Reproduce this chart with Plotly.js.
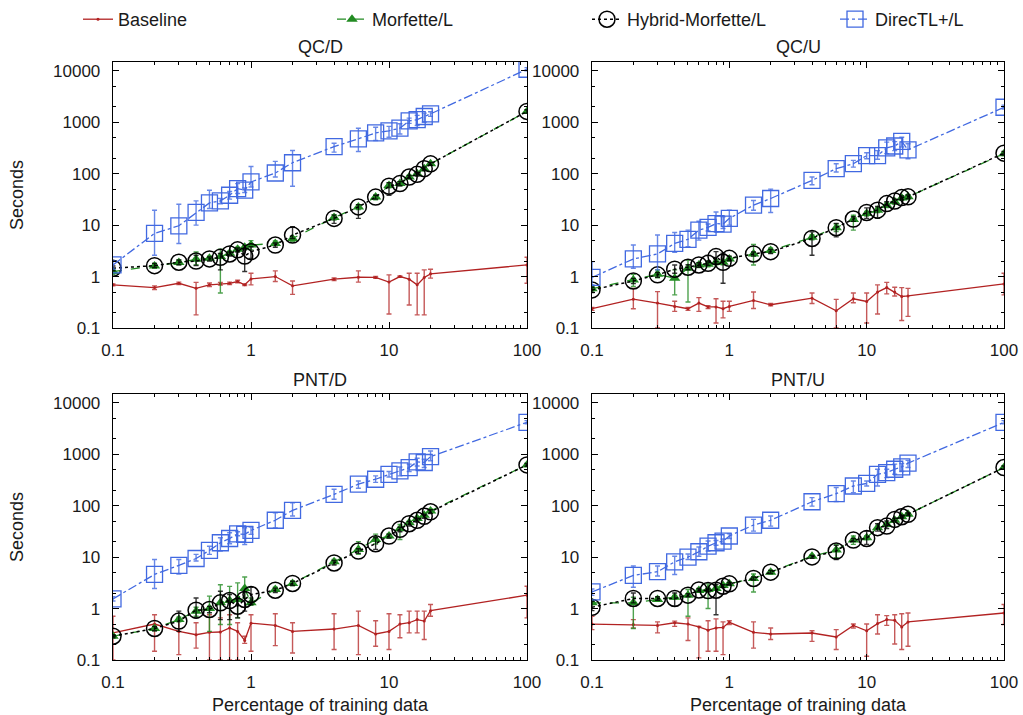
<!DOCTYPE html>
<html>
<head>
<meta charset="utf-8">
<script src="https://cdn.plot.ly/plotly-3.0.1.min.js"></script>
<style>html,body{margin:0;padding:0;background:#fff;}#chart{width:1023px;height:715px;}</style>
</head>
<body>
<div id="chart"></div>
<script>
// ---------- DATA ----------
const pct = [0.1,0.2,0.3,0.4,0.5,0.6,0.7,0.8,0.9,1,1.5,2,4,6,8,10,12,14,16,18,20,100];
const seriesNames = ["Baseline","Morfette/L","Hybrid-Morfette/L","DirecTL+/L"];
const panelTitles = ["QC/D","QC/U","PNT/D","PNT/U"];
const yTickVals = [0.1,1,10,100,1000,10000];
const yTickText = ["0.1","1","10","100","1000","10000"];
const xTickVals = [0.1,1,10,100];
const xTickText = ["0.1","1","10","100"];

// QC/D
const qcd_base    = [0.69,0.61,0.74,0.59,0.69,0.72,0.74,0.80,0.69,0.90,1.0,0.66,0.89,0.97,0.96,0.78,1.0,0.89,0.69,0.96,1.13,1.68];
const qcd_base_hi = [0.72,0.66,0.78,0.77,0.75,0.77,0.78,0.85,0.71,1.16,1.29,0.82,0.94,1.29,1.0,1.08,1.03,1.16,1.16,1.35,1.39,2.37];
const qcd_base_lo = [0.66,0.56,0.70,0.18,0.64,0.68,0.70,0.76,0.67,0.69,0.80,0.45,0.84,0.78,0.92,0.187,0.97,0.28,0.18,0.18,0.93,0.74];
const qcd_morf    = [1.25,1.61,1.87,2.16,2.26,2.44,2.83,3.4,3.7,4.1,4.4,5.5,14,22.6,35,59,64,86,100,125,155,1620];
const qcd_morf_hi = [1.4,1.8,2.1,3.0,2.5,3.4,3.1,3.7,4.0,5.0,4.9,5.9,16,25,38,65,70,92,108,135,165,1750];
const qcd_morf_lo = [1.1,1.45,1.7,1.7,2.05,0.48,2.6,3.1,3.4,3.3,4.0,4.75,12.5,20,31,53,58,80,93,115,145,1500];
const qcd_hyb     = [1.45,1.63,1.9,2.0,2.2,2.36,2.75,3.3,2.5,3.05,4.1,6.4,13.5,22.6,35,57,64,86,97,125,155,1620];
const qcd_hyb_hi  = [1.6,1.8,2.1,2.6,2.4,2.8,3.0,3.6,3.3,3.8,4.5,9.3,15.6,25,38,67,70,92,105,135,165,1750];
const qcd_hyb_lo  = [1.3,1.5,1.7,1.63,2.0,1.35,2.5,3.0,1.25,2.26,3.7,5.5,10.8,13.5,32,38,58,80,90,115,145,1500];
const qcd_dtl     = [1.68,6.9,9.7,17.6,27,29.6,38,51,48,69,103,163,336,475,620,680,765,1060,1120,1290,1450,10700];
const qcd_dtl_hi  = [2.0,19.5,25.5,29.6,47.5,33,45,64,53,138,173,282,390,765,800,830,930,1200,1360,1500,1600,11500];
const qcd_dtl_lo  = [1.4,2.6,4.4,10,21,26,32,41,43,55,86,57,262,270,440,510,590,950,860,1000,1300,10000];

// QC/U
const qcu_base    = [0.237,0.364,0.305,0.263,0.237,0.305,0.257,0.257,0.237,0.263,0.343,0.283,0.38,0.216,0.37,0.328,0.50,0.61,0.50,0.41,0.42,0.72];
const qcu_base_hi = [0.25,0.59,0.51,0.33,0.25,0.39,0.27,0.37,0.33,0.33,0.5,0.30,0.48,0.36,0.48,0.48,0.69,0.77,0.62,0.61,0.59,1.16];
const qcu_base_lo = [0.22,0.237,0.1,0.21,0.22,0.21,0.24,0.125,0.157,0.21,0.24,0.27,0.30,0.1,0.31,0.125,0.187,0.46,0.42,0.14,0.168,0.44];
const qcu_morf    = [0.58,0.86,1.11,0.93,1.45,1.68,1.73,1.89,1.89,2.2,2.75,3.2,5.8,8.9,12.9,16.8,19.5,24.4,28.3,33.8,35.4,245];
const qcu_morf_hi = [0.64,1.1,1.35,1.35,2.1,1.85,1.9,2.1,2.05,2.4,4.2,3.6,6.4,10.5,15.5,18.5,21.5,27,31,37,39,265];
const qcu_morf_lo = [0.52,0.64,0.95,0.44,0.32,1.5,1.55,1.7,1.7,2.0,1.68,2.85,5.2,7.5,8.0,15,17.5,22,25.5,30.5,32,225];
const qcu_hyb     = [0.55,0.82,1.08,1.39,1.52,1.68,1.81,2.44,1.89,2.26,2.75,3.05,5.5,8.9,13.1,17.6,19.5,26.2,29.4,34.2,35.4,250];
const qcu_hyb_hi  = [0.62,0.92,1.2,1.68,1.7,1.85,2.0,3.05,2.83,2.5,3.0,3.35,7.4,10.8,14.5,21.6,23,28.5,32,37,38.5,270];
const qcu_hyb_lo  = [0.49,0.73,0.97,1.16,1.36,1.52,1.65,1.95,0.74,2.05,2.5,2.8,2.6,5.9,11.8,13.5,13.5,24,27,31.5,32.5,230];
const qcu_dtl     = [0.96,2.2,2.75,4.4,5.3,8.0,9.0,10.7,10.4,13.5,24.4,32.9,74,125,156,225,225,318,345,425,290,1950];
const qcu_dtl_hi  = [1.95,4.1,6.4,7.2,8.0,11.9,10.5,18,14.5,19.5,30,50,86,156,181,255,280,410,420,510,380,2150];
const qcu_dtl_lo  = [0.69,1.45,1.35,2.95,3.8,5.1,7.7,7.4,8.6,10,19.5,17.6,61,108,134,195,190,245,280,330,195,1800];

// PNT/D
const pntd_base    = [0.336,0.50,0.36,0.31,0.345,0.35,0.42,0.36,0.24,0.52,0.47,0.36,0.40,0.47,0.32,0.36,0.50,0.53,0.61,0.57,0.91,1.82];
const pntd_base_hi = [0.71,0.76,0.61,0.53,0.76,0.66,0.76,0.53,0.29,0.76,0.79,0.53,0.79,0.89,0.58,0.79,0.76,0.89,0.89,0.89,1.2,2.72];
const pntd_base_lo = [0.1,0.148,0.127,0.17,0.1,0.1,0.1,0.1,0.21,0.148,0.19,0.137,0.16,0.127,0.185,0.16,0.27,0.336,0.336,0.25,0.71,0.66];
const pntd_morf    = [0.29,0.41,0.61,0.89,1.0,1.29,1.43,1.5,2.45,1.29,2.35,3.07,8.1,14.1,22,25.7,35.6,46.6,56,65,79,620];
const pntd_morf_hi = [0.31,0.45,0.68,1.06,1.74,2.9,2.7,3.15,4.1,1.6,2.6,3.4,9,20,28,28,43,50,60,70,85,660];
const pntd_morf_lo = [0.27,0.37,0.55,0.71,0.36,0.49,0.49,0.66,1.6,1.16,2.15,2.8,7.3,11.3,18,23.5,22,43,52,60,73,580];
const pntd_hyb     = [0.29,0.41,0.57,0.93,0.96,1.29,1.43,1.11,1.5,1.87,2.27,3.07,7.7,13.1,18.2,25.7,34.6,44.6,52,62,76,620];
const pntd_hyb_hi  = [0.31,0.45,0.89,1.6,1.1,2.17,1.87,1.6,2.11,2.6,2.5,3.4,8.6,14.5,23.8,28,38,49,57,68,83,660];
const pntd_hyb_lo  = [0.27,0.37,0.36,0.66,0.83,0.61,0.61,0.66,0.89,1.2,2.05,2.8,7.0,11.8,14.1,23.5,31,40,48,57,70,580];
const pntd_dtl     = [1.54,4.6,6.9,9.4,13.5,19,23,28.4,27.6,33,52,81,166,261,326,407,473,550,710,690,900,4160];
const pntd_dtl_hi  = [1.7,9.0,9.0,11.3,16.3,23.7,29.8,31,37.2,38.5,73,114,208,302,379,461,565,640,835,800,1150,4500];
const pntd_dtl_lo  = [1.4,2.45,4.7,8.4,11.3,13.1,18.2,26,17.6,27.6,37,63,133,218,283,361,379,461,590,550,745,3900];

// PNT/U
const pntu_base    = [0.50,0.49,0.47,0.53,0.50,0.44,0.38,0.42,0.43,0.54,0.345,0.32,0.335,0.28,0.47,0.37,0.51,0.61,0.59,0.44,0.55,0.82];
const pntu_base_hi = [0.71,0.61,0.55,0.57,0.66,0.45,0.58,0.63,0.55,0.58,0.55,0.42,0.37,0.39,0.50,0.50,0.76,0.73,0.76,0.79,0.82,1.2];
const pntu_base_lo = [0.39,0.42,0.336,0.45,0.24,0.11,0.148,0.148,0.127,0.49,0.17,0.25,0.23,0.16,0.42,0.118,0.32,0.47,0.205,0.16,0.185,0.49];
const pntu_morf    = [1.29,1.29,1.5,1.66,1.82,2.24,2.35,2.45,2.8,3.02,3.84,5.1,10.4,13.7,21.4,23.8,37.3,43,52,61,68,550];
const pntu_morf_hi = [1.4,1.66,1.65,1.8,2.35,2.4,3.02,2.6,3.0,3.2,4.7,5.5,11,17.7,25.7,26,40,46,56,65,73,590];
const pntu_morf_lo = [1.2,0.41,1.38,1.52,0.71,2.1,1.0,2.3,2.6,2.85,2.1,4.7,9.8,9.7,17.7,22,35,40,48,57,63,510];
const pntu_hyb     = [1.06,1.57,1.57,1.57,1.82,2.3,2.24,2.27,2.72,3.02,3.84,5.1,10.1,13.1,21.4,23,37.3,40,54,61,68,550];
const pntu_hyb_hi  = [1.39,2.0,1.7,2.0,1.95,2.45,2.4,2.94,2.9,3.2,4.1,5.5,10.8,16.9,23,32,44.6,50.3,57,65,72,590];
const pntu_hyb_lo  = [0.91,1.29,1.45,1.11,1.7,2.15,2.1,0.76,2.55,2.85,3.6,4.8,9.5,9.0,20,17.7,32,36,51,58,65,510];
const pntu_dtl     = [2.1,4.4,5.2,8.1,10,12.7,16.3,19,20.4,25.7,42,52,119,171,241,270,407,440,510,565,670,4160];
const pntu_dtl_hi  = [2.4,6.7,6.7,10.4,11.5,15.7,20.5,21,22.5,28.5,54,63,143,225,302,302,510,510,640,660,760,4500];
const pntu_dtl_lo  = [1.8,2.6,4.3,4.6,9,10.4,13.1,17,18.5,23,32,40,98,120,179,241,241,351,407,461,550,3900];

// ---------- STYLE ----------
const panels = [
  [[qcd_base,qcd_base_hi,qcd_base_lo],[qcd_morf,qcd_morf_hi,qcd_morf_lo],[qcd_hyb,qcd_hyb_hi,qcd_hyb_lo],[qcd_dtl,qcd_dtl_hi,qcd_dtl_lo]],
  [[qcu_base,qcu_base_hi,qcu_base_lo],[qcu_morf,qcu_morf_hi,qcu_morf_lo],[qcu_hyb,qcu_hyb_hi,qcu_hyb_lo],[qcu_dtl,qcu_dtl_hi,qcu_dtl_lo]],
  [[pntd_base,pntd_base_hi,pntd_base_lo],[pntd_morf,pntd_morf_hi,pntd_morf_lo],[pntd_hyb,pntd_hyb_hi,pntd_hyb_lo],[pntd_dtl,pntd_dtl_hi,pntd_dtl_lo]],
  [[pntu_base,pntu_base_hi,pntu_base_lo],[pntu_morf,pntu_morf_hi,pntu_morf_lo],[pntu_hyb,pntu_hyb_hi,pntu_hyb_lo],[pntu_dtl,pntu_dtl_hi,pntu_dtl_lo]]
];
const styles = [
  {color:'#b22222', err:'rgba(178,34,34,0.75)', dash:'solid', symbol:'circle', size:3, lw:1.3, mlw:0},
  {color:'#228b22', err:'rgba(34,139,34,0.8)', dash:'dash', symbol:'triangle-up', size:10, lw:1.3, mlw:0},
  {color:'#000000', err:'rgba(0,0,0,0.8)', dash:'dot', symbol:'circle-open', size:16, lw:1.5, mlw:1.5},
  {color:'#4169e1', err:'rgba(65,105,225,0.8)', dash:'dashdot', symbol:'square-open', size:16, lw:1.3, mlw:1.3}
];
const legendIds = ['legend', 'legend2', 'legend3', 'legend4'];

const traces = [];
panels.forEach((series, p) => {
  const xa = p === 0 ? 'x' : 'x' + (p + 1);
  const ya = p === 0 ? 'y' : 'y' + (p + 1);
  series.forEach((s, k) => {
    const [y, hi, lo] = s;
    const st = styles[k];
    traces.push({
      type: 'scatter', mode: 'lines+markers',
      x: pct, y: y, xaxis: xa, yaxis: ya,
      name: seriesNames[k], legendgroup: seriesNames[k], showlegend: p === 0,
      legend: legendIds[k],
      line: {color: st.color, dash: st.dash, width: st.lw},
      marker: {symbol: st.symbol, size: st.size, color: st.color, line: {color: st.color, width: st.mlw}},
      error_y: {type: 'data', symmetric: false,
        array: hi.map((h, i) => h - y[i]),
        arrayminus: lo.map((l, i) => y[i] - l),
        color: st.err, thickness: 1.4, width: 2.5}
    });
  });
});

// ---------- LAYOUT ----------
const W = 1023, H = 715;
const mL = 113, mR = 19, mT = 62, mB = 55;
const pw = W - mL - mR, ph = H - mT - mB;
const px = v => (v - mL) / pw;
const py = v => (H - mB - v) / ph;

const xMinor = [], yMinor = [];
for (let d = -1; d < 2; d++) for (let m = 2; m <= 9; m++) xMinor.push(m * Math.pow(10, d));
for (let d = -1; d < 5; d++) [2, 5].forEach(m => yMinor.push(m * Math.pow(10, d)));

const font = {family: 'Liberation Sans, Arial, sans-serif', size: 17, color: '#1a1a1a'};
function xAxis(dom, anchor, showTitle) {
  const a = {type: 'log', range: [-1, 2], domain: dom, anchor: anchor,
    tickmode: 'array', tickvals: xTickVals, ticktext: xTickText,
    ticks: 'inside', ticklen: 6, tickwidth: 1, tickcolor: '#000',
    showline: true, linecolor: '#000', linewidth: 1.3, mirror: 'allticks',
    showgrid: false, zeroline: false, ticklabelstandoff: 6,
    minor: {tickmode: 'array', tickvals: xMinor, ticks: 'inside', ticklen: 3, tickcolor: '#000', showgrid: false},
    tickfont: font};
  if (showTitle) a.title = {text: 'Percentage of training data', font: {family: font.family, size: 18, color: '#1a1a1a'}, standoff: 9};
  return a;
}
function yAxis(dom, anchor, showTitle) {
  const a = {type: 'log', range: [-1, 4.17], domain: dom, anchor: anchor,
    tickmode: 'array', tickvals: yTickVals, ticktext: yTickText,
    ticks: 'inside', ticklen: 6, tickwidth: 1, tickcolor: '#000',
    showline: true, linecolor: '#000', linewidth: 1.3, mirror: 'allticks',
    showgrid: false, zeroline: false, ticklabelstandoff: 8,
    minor: {tickmode: 'array', tickvals: yMinor, ticks: 'inside', ticklen: 3, tickcolor: '#000', showgrid: false},
    tickfont: font};
  if (showTitle) a.title = {text: 'Seconds', font: {family: font.family, size: 18, color: '#1a1a1a'}, standoff: 24};
  return a;
}
const xL = [0, px(527)], xR = [px(592), 1];
const yTop = [py(328), 1], yBot = [0, py(394)];

const titleCenters = [[320, 47], [798, 47], [320, 380], [798, 380]];
const annotations = panelTitles.map((t, i) => ({
  text: t, xref: 'paper', yref: 'paper', x: px(titleCenters[i][0]), y: py(titleCenters[i][1]),
  xanchor: 'center', yanchor: 'middle', showarrow: false,
  font: {family: font.family, size: 18, color: '#1a1a1a'}
}));

const legendTextX = [118, 372, 627, 875];
function legendAt(i) {
  return {orientation: 'h', xref: 'container', yref: 'container',
    x: (legendTextX[i] - 40) / W, xanchor: 'left', y: 1 - 1 / H, yanchor: 'top',
    bgcolor: 'rgba(0,0,0,0)', font: {family: font.family, size: 18, color: '#1a1a1a'}};
}

const layout = {
  width: W, height: H,
  margin: {l: mL, r: mR, t: mT, b: mB},
  paper_bgcolor: '#fff', plot_bgcolor: '#fff',
  font: font,
  showlegend: true,
  legend: legendAt(0), legend2: legendAt(1), legend3: legendAt(2), legend4: legendAt(3),
  xaxis: xAxis(xL, 'y', false),
  yaxis: yAxis(yTop, 'x', true),
  xaxis2: xAxis(xR, 'y2', false),
  yaxis2: yAxis(yTop, 'x2', false),
  xaxis3: xAxis(xL, 'y3', true),
  yaxis3: yAxis(yBot, 'x3', true),
  xaxis4: xAxis(xR, 'y4', true),
  yaxis4: yAxis(yBot, 'x4', false),
  annotations: annotations
};

Plotly.newPlot('chart', traces, layout, {displayModeBar: false, staticPlot: true});
</script>
</body>
</html>
